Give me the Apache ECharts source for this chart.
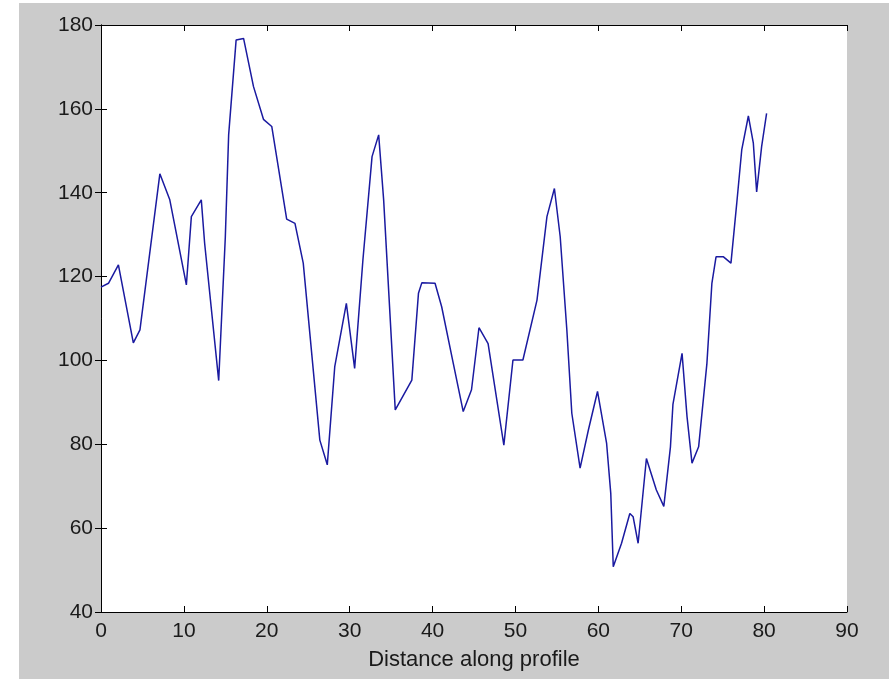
<!DOCTYPE html>
<html>
<head>
<meta charset="utf-8">
<script src="https://cdn.jsdelivr.net/npm/echarts@6/dist/echarts.min.js"></script>
<style>
  html, body { margin: 0; padding: 0; background: #ffffff; }
  #bg { position: absolute; left: 19px; top: 3px; width: 870px; height: 676px; background: #cbcbcb; }
  #chart { position: absolute; left: 0; top: 0; width: 889px; height: 681px; }
</style>
</head>
<body>
<div id="bg"></div>
<div id="chart"></div>
<script>
// Distance along profile (x) and profile value (y)
const distance = [
  0.0, 0.9, 2.1, 3.9, 4.7, 7.1, 8.3, 10.3, 10.9, 12.1,
  12.5, 14.2, 15.0, 15.4, 16.3, 17.2, 18.4, 19.6, 20.6, 22.4,
  23.4, 24.4, 26.4, 27.3, 28.2, 29.6, 30.6, 31.6, 32.7, 33.5,
  34.1, 35.5, 37.5, 38.3, 38.7, 40.3, 41.1, 42.5, 43.7, 44.7,
  45.6, 46.7, 48.6, 49.7, 50.9, 52.6, 53.8, 54.7, 55.4, 56.2,
  56.8, 57.8, 58.8, 59.9, 61.0, 61.5, 61.8, 62.8, 63.8, 64.2,
  64.8, 65.8, 67.0, 67.9, 68.7, 69.0, 70.1, 70.7, 71.3, 72.1,
  73.1, 73.7, 74.2, 75.1, 76.0, 76.7, 77.3, 78.1, 78.7, 79.1,
  79.7, 80.3
];
const profile = [
  117.5, 118.4, 122.8, 104.2, 107.3, 144.5, 138.3, 118.0, 134.3, 138.3,
  128.0, 95.2, 129.5, 153.8, 176.4, 176.8, 165.3, 157.5, 155.8, 133.7,
  132.7, 123.2, 81.0, 75.1, 98.5, 113.6, 98.1, 124.0, 148.6, 153.8,
  138.3, 88.2, 95.3, 116.0, 118.5, 118.4, 112.8, 99.3, 87.8, 93.0,
  107.8, 104.0, 79.8, 100.1, 100.1, 114.4, 134.3, 141.0, 129.5, 107.3,
  87.4, 74.3, 83.4, 92.6, 80.2, 68.3, 50.8, 56.4, 63.5, 62.7,
  56.4, 76.6, 69.1, 65.2, 79.4, 89.5, 101.7, 86.6, 75.5, 79.4,
  99.3, 118.4, 124.7, 124.7, 123.2, 137.5, 150.2, 158.3, 151.8, 140.2,
  151.0, 158.9
];
const xTicks = { min: 0, max: 90, interval: 10 };
const yTicks = { min: 40, max: 180, interval: 20 };
const xLabel = 'Distance along profile';

const data = distance.map((d, i) => [d, profile[i]]);
const font = 'Liberation Sans, Arial, sans-serif';
const axisLine = { show: true, lineStyle: { color: '#000', width: 1 } };
const axisTick = { show: true, inside: true, length: 6, lineStyle: { color: '#000', width: 1 } };

const chart = echarts.init(document.getElementById('chart'), null, { renderer: 'canvas' });
chart.setOption({
  backgroundColor: 'transparent',
  animation: false,
  grid: { left: 101, right: 42, top: 25, bottom: 69, show: true, backgroundColor: '#ffffff', borderWidth: 0 },
  xAxis: [
    {
      type: 'value', position: 'bottom', min: xTicks.min, max: xTicks.max, interval: xTicks.interval,
      axisLine, axisTick, splitLine: { show: false },
      axisLabel: { color: '#1a1a1a', fontSize: 21, fontFamily: font, margin: 9 },
      name: xLabel, nameLocation: 'middle', nameGap: 37,
      nameTextStyle: { color: '#1a1a1a', fontSize: 22, fontFamily: font }
    },
    {
      type: 'value', position: 'top', min: xTicks.min, max: xTicks.max, interval: xTicks.interval,
      axisLine, axisTick, splitLine: { show: false }, axisLabel: { show: false }
    }
  ],
  yAxis: [
    {
      type: 'value', position: 'left', min: yTicks.min, max: yTicks.max, interval: yTicks.interval,
      axisLine, axisTick, splitLine: { show: false },
      axisLabel: { color: '#1a1a1a', fontSize: 21, fontFamily: font, margin: 8 }
    },
    {
      type: 'value', position: 'right', min: yTicks.min, max: yTicks.max, interval: yTicks.interval,
      axisLine, axisTick, splitLine: { show: false }, axisLabel: { show: false }
    }
  ],
  series: [
    {
      type: 'line', data: data, xAxisIndex: 0, yAxisIndex: 0,
      showSymbol: false, smooth: false,
      lineStyle: { color: '#1a1aa0', width: 1.5 }
    }
  ]
});
</script>
</body>
</html>
